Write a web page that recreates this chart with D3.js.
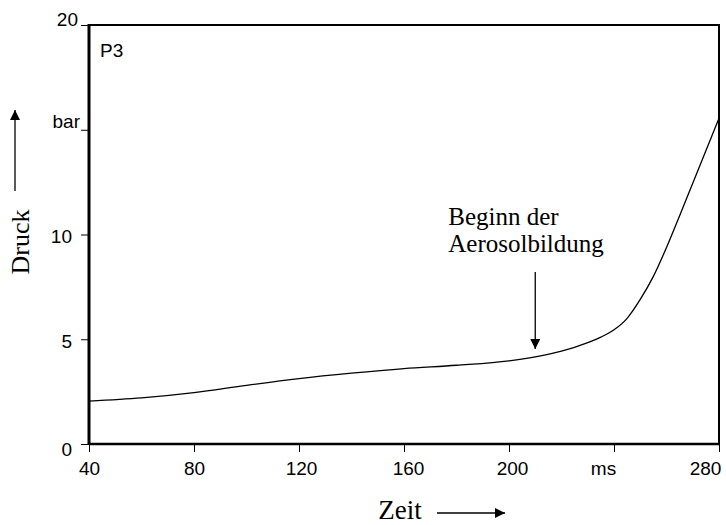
<!DOCTYPE html>
<html lang="de">
<head>
<meta charset="utf-8">
<style>
  body { margin: 0; background: #fff; }
  svg { font-family: Arial, "Liberation Sans", sans-serif; }
  .serif { font-family: "Times New Roman", "Liberation Serif", serif; }
</style>
<script src="https://d3js.org/d3.v7.min.js"></script>
</head>
<body>
<svg width="726" height="525"></svg>
<script>

// Zeit (ms) and Druck (bar)
var zeit  = [40, 60, 80, 100, 120, 140, 160, 180, 200, 210, 220, 230, 235, 240, 245, 250, 255, 260, 265, 270, 275, 280];
var druck = [2.05, 2.2, 2.45, 2.8, 3.12, 3.38, 3.6, 3.76, 3.97, 4.16, 4.43, 4.84, 5.1, 5.45, 6.0, 6.9, 8.0, 9.38, 10.9, 12.45, 14.0, 15.55];

var xTicks = [40, 80, 120, 160, 200, 240, 280];
var xTickLabels = ["40", "80", "120", "160", "200", "ms", "280"];
var yTicks = [0, 5, 10, 15, 20];
var yTickLabels = ["0", "5", "10", "bar", "20"];

var annotationAt = 210;
var annotationText = ["Beginn der", "Aerosolbildung"];

var svg = d3.select("svg");

var x = d3.scaleLinear().domain([40, 280]).range([89, 719]);
var y = d3.scaleLinear().domain([0, 20]).range([444, 25]);

var data = zeit.map(function(t, i) { return {t: t, p: druck[i]}; });

// arrow marker
svg.append("defs").append("marker")
    .attr("id", "head")
    .attr("viewBox", "0 0 10 10")
    .attr("refX", 10).attr("refY", 5)
    .attr("markerUnits", "userSpaceOnUse")
    .attr("markerWidth", 14).attr("markerHeight", 10)
    .attr("orient", "auto")
  .append("path")
    .attr("d", "M0,0 L10,5 L0,10 Z")
    .attr("fill", "#000");

// axes (ticks only, the frame is drawn separately)
var yAxis = svg.append("g")
    .attr("transform", "translate(" + x.range()[0] + ",0)")
    .call(d3.axisLeft(y).tickValues(yTicks)
      .tickFormat(function(d, i) { return yTickLabels[i]; })
      .tickSize(8).tickPadding(9));
yAxis.select(".domain").remove();
yAxis.selectAll("text")
    .attr("font-size", 19).attr("font-family", "Arial, 'Liberation Sans', sans-serif")
    .attr("x", function(d) { return d === 15 ? -9 : (d === 20 ? -11 : -17); })
    .attr("dy", function(d) {
      if (d === 20) return "0.05em";
      if (d === 15) return "-0.1em";
      if (d === 0) return "0.58em";
      return "0.42em";
    });

var xAxis = svg.append("g")
    .attr("transform", "translate(0," + y.range()[0] + ")")
    .call(d3.axisBottom(x).tickValues(xTicks)
      .tickFormat(function(d, i) { return xTickLabels[i]; })
      .tickSize(8).tickPadding(10));
xAxis.select(".domain").remove();
xAxis.selectAll("text")
    .attr("font-size", 19).attr("font-family", "Arial, 'Liberation Sans', sans-serif")
    .attr("dx", function(d) {
      if (d === 240) return -11;
      if (d === 280) return -14;
      if (d === 160) return 4;
      if (d === 200) return 3;
      if (d === 120) return 2;
      return 0;
    });
svg.selectAll(".tick line").attr("stroke", "#000").attr("stroke-width", 1);

// frame
svg.append("path")
    .attr("d", "M" + x(40) + "," + y(20) + "H" + x(280) + "V" + y(0))
    .attr("fill", "none").attr("stroke", "#000").attr("stroke-width", 2);
svg.append("line")
    .attr("x1", x(40)).attr("x2", x(280)).attr("y1", y(0)).attr("y2", y(0))
    .attr("stroke", "#000").attr("stroke-width", 2.6);
svg.append("line")
    .attr("x1", x(40)).attr("x2", x(40)).attr("y1", y(20) - 1).attr("y2", y(0) + 1)
    .attr("stroke", "#000").attr("stroke-width", 3);

// curve
var line = d3.line()
    .x(function(d) { return x(d.t); })
    .y(function(d) { return y(d.p); })
    .curve(d3.curveMonotoneX);

svg.append("path")
    .datum(data)
    .attr("d", line)
    .attr("fill", "none")
    .attr("stroke", "#000")
    .attr("stroke-width", 1.3);

svg.append("text")
    .attr("x", x(40) + 11).attr("y", y(20) + 32)
    .attr("font-size", 19)
    .text("P3");

// annotation
var ax = x(annotationAt);
var ann = svg.append("text").attr("class", "serif").attr("font-size", 25);
ann.selectAll("tspan").data(annotationText).enter().append("tspan")
    .attr("x", ax - 87).attr("y", function(d, i) { return 225 + i * 27; })
    .text(function(d) { return d; });
svg.append("line")
    .attr("x1", ax).attr("x2", ax).attr("y1", 272).attr("y2", 349)
    .attr("stroke", "#000").attr("stroke-width", 1.3)
    .attr("marker-end", "url(#head)");

// axis titles with arrows
svg.append("text").attr("class", "serif")
    .attr("transform", "translate(29,242) rotate(-90)")
    .attr("text-anchor", "middle").attr("font-size", 26)
    .text("Druck");
svg.append("line")
    .attr("x1", 15).attr("x2", 15).attr("y1", 191).attr("y2", 110)
    .attr("stroke", "#000").attr("stroke-width", 1.3)
    .attr("marker-end", "url(#head)");

svg.append("text").attr("class", "serif")
    .attr("x", 400).attr("y", 519)
    .attr("text-anchor", "middle").attr("font-size", 27)
    .text("Zeit");
svg.append("line")
    .attr("x1", 437).attr("x2", 505).attr("y1", 513).attr("y2", 513)
    .attr("stroke", "#000").attr("stroke-width", 1.3)
    .attr("marker-end", "url(#head)");

</script>
</body>
</html>
